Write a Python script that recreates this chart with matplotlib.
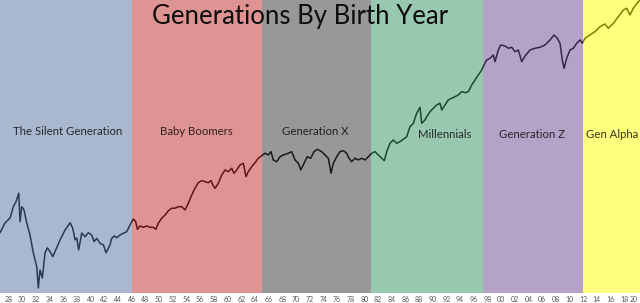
import matplotlib
matplotlib.use("Agg")
import matplotlib.pyplot as plt
import matplotlib.transforms as mtransforms

# index level (log scale), by fractional year
years = [1926.74, 1927.47, 1928.21, 1928.69, 1929.08, 1929.48, 1929.67, 1929.92, 1930.25, 1930.65,
         1931.13, 1931.61, 1932.11, 1932.34, 1932.59, 1932.93, 1933.32, 1933.66, 1934.05, 1934.45,
         1934.78, 1935.52, 1936.25, 1936.98, 1937.37, 1937.71, 1937.96, 1938.25, 1938.69, 1939.17,
         1939.65, 1940.15, 1940.49, 1940.88, 1941.36, 1941.85, 1942.24, 1942.83, 1943.07, 1943.45,
         1943.80, 1944.29, 1944.77, 1945.27, 1945.75, 1946.23, 1946.58, 1946.82, 1947.21, 1947.69,
         1948.19, 1948.67, 1949.16, 1949.51, 1949.89, 1950.38, 1950.87, 1951.35, 1951.85, 1952.33,
         1952.81, 1953.31, 1953.79, 1954.27, 1954.77, 1955.25, 1955.73, 1956.23, 1956.71, 1957.20,
         1957.59, 1957.93, 1958.18, 1958.66, 1959.16, 1959.64, 1960.12, 1960.62, 1960.95, 1961.35,
         1961.83, 1962.31, 1962.71, 1963.04, 1963.54, 1964.02, 1964.51, 1965.00, 1965.49, 1965.97,
         1966.36, 1966.70, 1967.20, 1967.68, 1968.16, 1968.89, 1969.39, 1969.87, 1970.36, 1970.71,
         1971.19, 1971.67, 1972.17, 1972.65, 1973.13, 1973.77, 1974.26, 1974.74, 1975.14, 1975.47,
         1975.97, 1976.45, 1976.93, 1977.43, 1977.77, 1978.16, 1978.64, 1979.13, 1979.62, 1980.11,
         1980.59, 1981.09, 1981.57, 1982.05, 1982.55, 1982.93, 1983.28, 1983.76, 1984.24, 1984.74,
         1985.22, 1985.71, 1986.20, 1986.68, 1987.17, 1987.66, 1988.15, 1988.39, 1988.88, 1989.13,
         1989.61, 1990.09, 1990.59, 1991.07, 1991.32, 1991.80, 1992.28, 1992.78, 1993.26, 1993.75,
         1994.24, 1994.73, 1995.21, 1995.71, 1996.19, 1996.67, 1997.17, 1997.50, 1997.90, 1998.38,
         1998.86, 1999.11, 1999.59, 1999.94, 2000.57, 2001.06, 2001.55, 2002.03, 2002.52, 2003.02,
         2003.50, 2004.23, 2004.96, 2005.69, 2006.42, 2007.15, 2007.74, 2008.22, 2008.61, 2008.95,
         2009.20, 2009.59, 2010.08, 2010.56, 2011.06, 2011.54, 2011.88, 2012.27, 2013.00, 2013.73,
         2014.46, 2015.19, 2015.68, 2016.41, 2017.14, 2017.87, 2018.37, 2018.85, 2019.33, 2020.06,
         2020.31]
level = [153, 193, 217, 284, 320, 391, 199, 284, 263, 193,
         145, 94.7, 68.4, 41.2, 63.2, 52.3, 94.7, 107, 97.7, 86.7,
         97.7, 129, 163, 194, 171, 129, 135, 102, 152, 139,
         153, 145, 124, 134, 119, 115, 95.3, 115, 134, 142,
         136, 145, 151, 157, 184, 212, 199, 166, 180, 174,
         180, 174, 174, 166, 192, 216, 233, 258, 274, 274,
         284, 284, 263, 308, 375, 440, 502, 527, 514, 502,
         527, 465, 440, 495, 603, 679, 652, 707, 628, 679,
         765, 796, 579, 652, 735, 807, 897, 954, 1009, 970,
         1049, 861, 827, 931, 970, 1009, 1049, 861, 796, 679,
         796, 931, 897, 1049, 1110, 1049, 970, 897, 628, 796,
         931, 1049, 1074, 1009, 897, 827, 897, 861, 897, 861,
         931, 1009, 1049, 970, 897, 847, 1049, 1280, 1384, 1280,
         1330, 1407, 1497, 1898, 2058, 2609, 3009, 2058, 2225, 2406,
         2710, 2938, 3177, 3309, 2822, 3177, 3578, 3725, 3872, 4029,
         4359, 4255, 4359, 5108, 5754, 6479, 7295, 8212, 9246, 9630,
         10410, 8880, 11720, 13200, 12890, 12210, 12500, 11260, 11720, 8880,
         10170, 11720, 12210, 12500, 13200, 14860, 16740, 15480, 13750, 9246,
         7590, 9630, 11720, 12210, 13750, 14860, 13750, 15480, 16740, 18110,
         20380, 21730, 19630, 22090, 25840, 30290, 31570, 26920, 31570, 36900,
         38000]

gen_names = ["The Silent Generation", "Baby Boomers", "Generation X",
             "Millennials", "Generation Z", "Gen Alpha"]
gen_starts = [1926.74, 1946, 1965, 1981, 1997.35, 2012]
gen_end = 2020.31
gen_colors = ["#55739f", "#c12b2b", "#333333", "#339361", "#6b4791", "#ffff00"]
label_x = [1936.7, 1955.5, 1972.9, 1991.8, 2004.5, 2016.2]
label_y = [0.551, 0.551, 0.551, 0.541, 0.541, 0.541]

tick_years = list(range(1928, 2021, 2))
tick_labels = ["%02d" % (y % 100) for y in tick_years]

plt.rcParams['font.family'] = ['Lato', 'DejaVu Sans']

fig = plt.figure(figsize=(6.4, 3.03), dpi=100)
ax = fig.add_axes([0, 1 - 293 / 303, 1, 293 / 303])

ax.plot(years, level, color="black", lw=1.1, zorder=2)
ax.set_yscale("log")
ax.set_ylim(36.6, 38400)
ax.set_xlim(gen_starts[0], gen_end)

ends = gen_starts[1:] + [gen_end]
for s, e, c in zip(gen_starts, ends, gen_colors):
    ax.axvspan(s, e, color=c, alpha=0.5, lw=0, zorder=3)

trans = mtransforms.blended_transform_factory(ax.transData, ax.transAxes)
for name, x, y in zip(gen_names, label_x, label_y):
    ax.text(x, y, name, transform=trans, ha="center", va="center",
            fontsize=8.2, color="black", alpha=0.78, zorder=4)

ax.text(1970.6, 0.945, "Generations By Birth Year", transform=trans,
        ha="center", va="center", fontsize=18.5, color="#0d0d0d", zorder=4)

ax.set_xticks(tick_years)
ax.set_xticklabels(tick_labels)
ax.tick_params(axis="x", length=0, pad=2, labelsize=5, labelcolor="#555555")
ax.get_xticklabels()[-1].set_horizontalalignment("right")
ax.set_yticks([])
ax.yaxis.set_minor_locator(matplotlib.ticker.NullLocator())
for sp in ax.spines.values():
    sp.set_visible(False)

fig.savefig("out.png", dpi=100)
